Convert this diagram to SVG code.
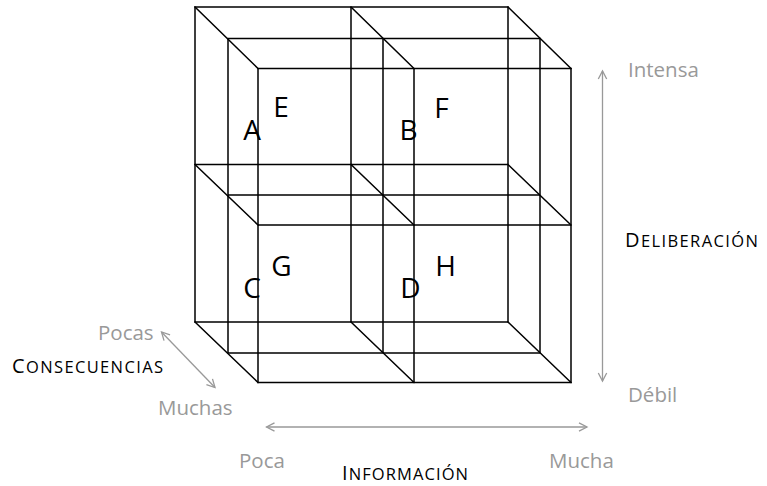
<svg xmlns="http://www.w3.org/2000/svg" width="767" height="486" viewBox="0 0 767 486">
<defs>
<style>
.cube{fill:none;stroke:#000;stroke-width:1.5;stroke-linecap:square}
.axis{fill:none;stroke:#999;stroke-width:1.3}
.lbl{font-family:"Open Sans","Noto Sans",sans-serif;font-size:28px;fill:#000;text-anchor:middle}
.val{font-family:"Open Sans","Noto Sans",sans-serif;font-size:20.5px;fill:#999}
.ttl{font-family:"Open Sans","Noto Sans",sans-serif;font-size:16.5px;fill:#000}
.cap{font-size:20px}
</style>
<marker id="ah" viewBox="-10 -6 12 12" refX="0" refY="0" markerWidth="12" markerHeight="12" markerUnits="userSpaceOnUse" orient="auto-start-reverse">
<path d="M-8,-4.2 L0,0 L-8,4.2" fill="none" stroke="#999" stroke-width="1.3"/>
</marker>
</defs>
<rect width="767" height="486" fill="#fff"/>
<g id="cube" class="cube">
<path d="M195,7H508V322H195Z M351,7V322 M195,164.5H508"/>
<path d="M228,38.5H540V353H228Z M383,38.5V353 M228,195H540"/>
<path d="M258,68.5H571V382.5H258Z M414,68.5V382.5 M258,225H571"/>
<path d="M195,7L258,68.5 M351,7L414,68.5 M508,7L571,68.5 M195,164.5L258,225 M351,164.5L414,225 M508,164.5L571,225 M195,322L258,382.5 M351,322L414,382.5 M508,322L571,382.5"/>
</g>
<g id="node-A"><text class="lbl" x="252" y="140">A</text></g>
<g id="node-B"><text class="lbl" x="408.5" y="140">B</text></g>
<g id="node-C"><text class="lbl" x="252" y="298">C</text></g>
<g id="node-D"><text class="lbl" x="410.5" y="298">D</text></g>
<g id="node-E"><text class="lbl" x="281" y="117">E</text></g>
<g id="node-F"><text class="lbl" x="441.5" y="118">F</text></g>
<g id="node-G"><text class="lbl" x="281.5" y="276">G</text></g>
<g id="node-H"><text class="lbl" x="445.5" y="276">H</text></g>
<g id="connectors" class="axis">
<line x1="602.5" y1="71" x2="602.5" y2="381" marker-start="url(#ah)" marker-end="url(#ah)"/>
<line x1="266.5" y1="427" x2="587" y2="427" marker-start="url(#ah)" marker-end="url(#ah)"/>
<line x1="161.5" y1="332" x2="215" y2="387.5" marker-start="url(#ah)" marker-end="url(#ah)"/>
</g>
<g id="axis-deliberacion">
<text class="val" x="628" y="77">Intensa</text>
<text class="ttl" x="625" y="247" textLength="133" lengthAdjust="spacing"><tspan class="cap">D</tspan>ELIBERACIÓN</text>
<text class="val" x="628" y="402">Débil</text>
</g>
<g id="axis-informacion">
<text class="val" x="239" y="468">Poca</text>
<text class="ttl" x="342" y="480" textLength="126" lengthAdjust="spacing"><tspan class="cap">I</tspan>NFORMACIÓN</text>
<text class="val" x="549" y="468">Mucha</text>
</g>
<g id="axis-consecuencias">
<text class="val" x="98" y="340">Pocas</text>
<text class="ttl" x="12" y="373" textLength="151" lengthAdjust="spacing"><tspan class="cap">C</tspan>ONSECUENCIAS</text>
<text class="val" x="158" y="415">Muchas</text>
</g>
</svg>
